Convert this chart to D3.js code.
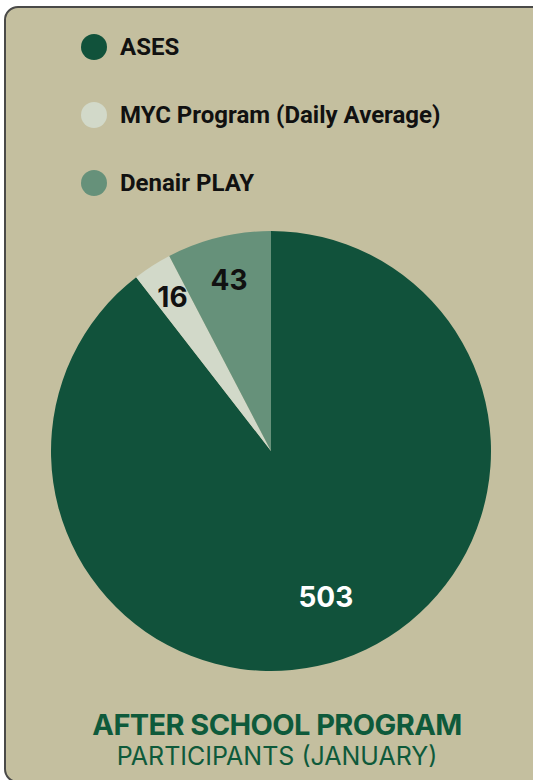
<!DOCTYPE html>
<html>
<head>
<meta charset="utf-8">
<script src="https://cdn.jsdelivr.net/npm/d3@7"></script>
<style>
  body { margin: 0; background: #fff; }
  svg { display: block; }
</style>
</head>
<body>
<script>
var categories = ["ASES", "MYC Program (Daily Average)", "Denair PLAY"];
var values = [503, 16, 43];
var colors = ["#11523b", "#d2d9c9", "#66917a"];
var labelColors = ["#ffffff", "#111111", "#111111"];
var titleText = "AFTER SCHOOL PROGRAM";
var subtitleText = "PARTICIPANTS (JANUARY)";

var width = 533, height = 780;
var svg = d3.select("body").append("svg")
    .attr("width", width).attr("height", height);

// card
svg.append("rect")
    .attr("x", 5).attr("y", 7)
    .attr("width", 545).attr("height", 775)
    .attr("rx", 13)
    .attr("fill", "#c4bf9f")
    .attr("stroke", "#4a4a48")
    .attr("stroke-width", 2);

// legend
var legend = svg.append("g").attr("transform", "translate(94, 47)");
var items = legend.selectAll("g").data(categories).enter().append("g")
    .attr("transform", function(d, i) { return "translate(0," + i * 68 + ")"; });
items.append("circle")
    .attr("r", 13)
    .attr("fill", function(d, i) { return colors[i]; });
items.append("text")
    .attr("x", 26).attr("y", 8)
    .attr("font-family", "'Liberation Sans Narrow', 'Roboto', sans-serif")
    .attr("font-weight", "bold")
    .attr("font-size", 24)
    .attr("fill", "#111")
    .text(function(d) { return d; });

// pie
var cx = 271, cy = 451, radius = 220;
var pie = d3.pie().sort(null).value(function(d) { return d; });
var arcs = pie(values);
var arc = d3.arc().innerRadius(0).outerRadius(radius);
var labelR = [0.7, 0.83, 0.8];

var g = svg.append("g").attr("transform", "translate(" + cx + "," + cy + ")");
g.selectAll("path").data(arcs).enter().append("path")
    .attr("d", arc)
    .attr("fill", function(d, i) { return colors[i]; });

g.selectAll("text").data(arcs).enter().append("text")
    .attr("transform", function(d, i) {
        var a = (d.startAngle + d.endAngle) / 2;
        var r = radius * labelR[i];
        return "translate(" + (r * Math.sin(a) + (i == 0 ? 5 : 0)) + "," + (-r * Math.cos(a)) + ")";
    })
    .attr("text-anchor", "middle")
    .attr("dy", "0.36em")
    .attr("font-family", "Inter, 'Open Sans', sans-serif")
    .attr("font-weight", "bold")
    .attr("font-size", 28)
    .attr("fill", function(d, i) { return labelColors[i]; })
    .text(function(d) { return d.data; });

// titles
svg.append("text")
    .attr("x", 277).attr("y", 735)
    .attr("text-anchor", "middle")
    .attr("font-family", "Inter, 'Open Sans', sans-serif")
    .attr("font-weight", "bold")
    .attr("font-size", 29)
    .attr("letter-spacing", -0.6)
    .attr("fill", "#0e5a3b")
    .text(titleText);
svg.append("text")
    .attr("x", 277).attr("y", 765)
    .attr("text-anchor", "middle")
    .attr("font-family", "Inter, 'Open Sans', sans-serif")
    .attr("font-size", 25)
    .attr("fill", "#0e5a3b")
    .text(subtitleText);
</script>
</body>
</html>
